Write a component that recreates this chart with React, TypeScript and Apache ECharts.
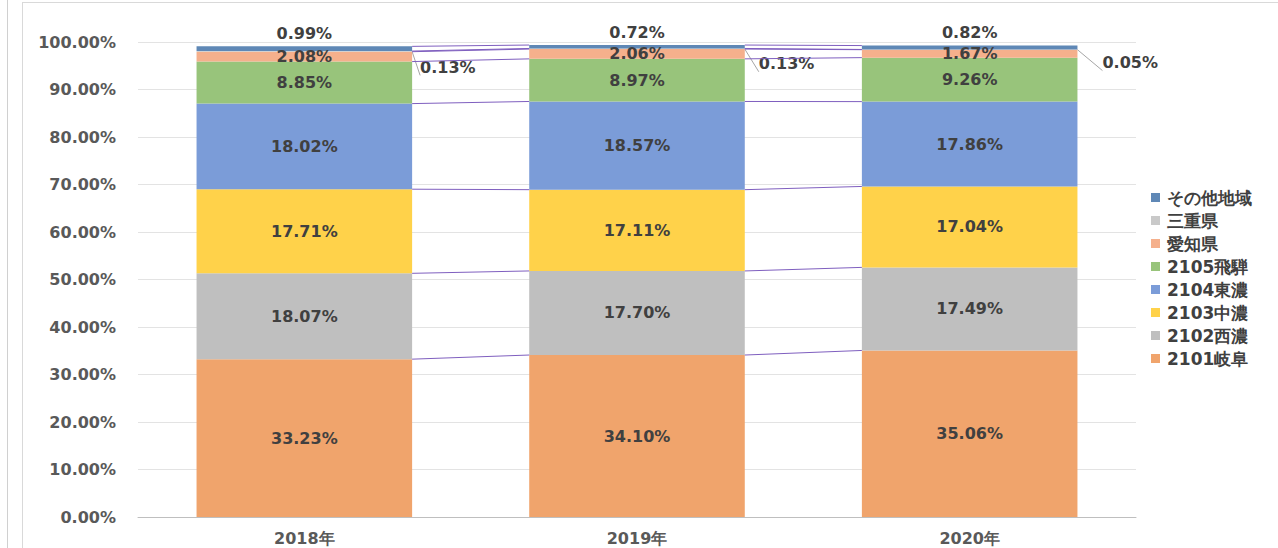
import React, { useEffect, useRef } from "react";
import * as echarts from "echarts";

const categories = ["2018年", "2019年", "2020年"];
const seriesNames = ["2101岐阜", "2102西濃", "2103中濃", "2104東濃", "2105飛騨", "愛知県", "三重県", "その他地域"];
const gifu = [33.23, 34.10, 35.06];
const seino = [18.07, 17.70, 17.49];
const chuno = [17.71, 17.11, 17.04];
const tono = [18.02, 18.57, 17.86];
const hida = [8.85, 8.97, 9.26];
const aichi = [2.08, 2.06, 1.67];
const mie = [0.13, 0.13, 0.05];
const other = [0.99, 0.72, 0.82];
const yTicks = [0, 10, 20, 30, 40, 50, 60, 70, 80, 90, 100];

const seriesValues = [gifu, seino, chuno, tono, hida, aichi, mie, other];
const colors = ["#F0A46C", "#BFBFBF", "#FFD24A", "#7B9CD8", "#98C47B", "#F5B08C", "#C9C9C9", "#5F88B6"];

const BAR_FRAC = 0.648;
const LABEL_COLOR = "#404040";
const FONT = "'DejaVu Sans', Verdana, sans-serif";

export default function App() {
  const ref = useRef<HTMLDivElement>(null);
  useEffect(() => {
    if (!ref.current) return;
    const chart = echarts.init(ref.current, null, { renderer: "svg" });

    const cum: number[][] = categories.map((_, ci) => {
      let s = 0;
      return seriesValues.map((arr) => (s += arr[ci]));
    });
    const lineData: number[][] = [];
    for (let ci = 0; ci < categories.length - 1; ci++) {
      for (let si = 0; si < seriesValues.length; si++) {
        lineData.push([ci, cum[ci][si], cum[ci + 1][si]]);
      }
    }

    const mieLabelOffsets = [[2, 16], [8, 15], [19, 13]];

    const barSeries: any[] = seriesValues.map((vals, si) => {
      const name = seriesNames[si];
      let data: any[] = vals.map((v) => v);
      const baseLabel: any = {
        show: true,
        color: LABEL_COLOR,
        fontWeight: "bold",
        fontSize: 16,
        fontFamily: FONT,
        formatter: (p: any) => p.value.toFixed(2) + "%",
      };
      if (si === 7) {
        baseLabel.position = "top";
        baseLabel.distance = 5;
      } else if (si === 6) {
        data = vals.map((v, ci) => ({
          value: v,
          label: {
            show: true,
            position: "right",
            distance: 6,
            offset: mieLabelOffsets[ci],
          },
          labelLine: { show: true, lineStyle: { color: "#A6A6A6", width: 1 } },
        }));
        baseLabel.position = "right";
      } else {
        baseLabel.position = "inside";
      }
      return {
        type: "bar",
        name,
        stack: "total",
        barWidth: BAR_FRAC * 100 + "%",
        itemStyle: { color: colors[si] },
        label: baseLabel,
        labelLine: si === 6 ? { show: true, smooth: false, lineStyle: { color: "#A6A6A6" } } : undefined,
        data,
        z: 3,
      };
    });

    const option: any = {
      animation: false,
      backgroundColor: "#ffffff",
      textStyle: { fontFamily: FONT },
      grid: { left: 138, right: 142, top: 42, bottom: 31, containLabel: false },
      legend: {
        orient: "vertical",
        left: 1146,
        top: 184,
        itemWidth: 9,
        itemHeight: 9,
        itemGap: 6,
        icon: "rect",
        data: seriesNames.slice().reverse(),
        textStyle: { color: LABEL_COLOR, fontWeight: "bold", fontSize: 17, fontFamily: FONT, padding: [0, 0, 0, 2] },
      },
      xAxis: {
        type: "category",
        data: categories,
        axisLine: { lineStyle: { color: "#BFBFBF" } },
        axisTick: { show: false },
        axisLabel: { color: "#595959", fontWeight: "bold", fontSize: 16, margin: 13, fontFamily: FONT },
      },
      yAxis: {
        type: "value",
        min: yTicks[0],
        max: yTicks[yTicks.length - 1],
        interval: yTicks[1] - yTicks[0],
        axisLine: { show: false },
        axisTick: { show: false },
        splitLine: { lineStyle: { color: "#E3E3E3" } },
        axisLabel: {
          color: "#595959",
          fontWeight: "bold",
          fontSize: 16,
          margin: 22,
          fontFamily: FONT,
          formatter: (v: number) => v.toFixed(2) + "%",
        },
      },
      graphic: [
        { type: "line", shape: { x1: 7.5, y1: 0, x2: 7.5, y2: 548 }, style: { stroke: "#D0D0D0", lineWidth: 1 } },
        { type: "line", shape: { x1: 22.5, y1: 2, x2: 22.5, y2: 548 }, style: { stroke: "#D9D9D9", lineWidth: 1 } },
        { type: "line", shape: { x1: 22, y1: 2.5, x2: 1278, y2: 2.5 }, style: { stroke: "#D9D9D9", lineWidth: 1 } },
      ],
      series: [
        ...barSeries,
        {
          type: "custom",
          name: "seriesLines",
          silent: true,
          z: 4,
          data: lineData,
          encode: { x: 0, y: 1 },
          renderItem: (params: any, api: any) => {
            const ci = api.value(0);
            const p1 = api.coord([ci, api.value(1)]);
            const p2 = api.coord([ci + 1, api.value(2)]);
            const half = (api.size([1, 0])[0] * BAR_FRAC) / 2;
            return {
              type: "line",
              shape: { x1: p1[0] + half, y1: p1[1], x2: p2[0] - half, y2: p2[1] },
              style: { stroke: "#7F5FBF", lineWidth: 1 },
            };
          },
        },
      ],
    };
    chart.setOption(option);
    return () => chart.dispose();
  }, []);
  return (
    <div
      ref={ref}
      style={{ position: "fixed", left: 0, top: 0, width: 1278, height: 548 }}
    />
  );
}
